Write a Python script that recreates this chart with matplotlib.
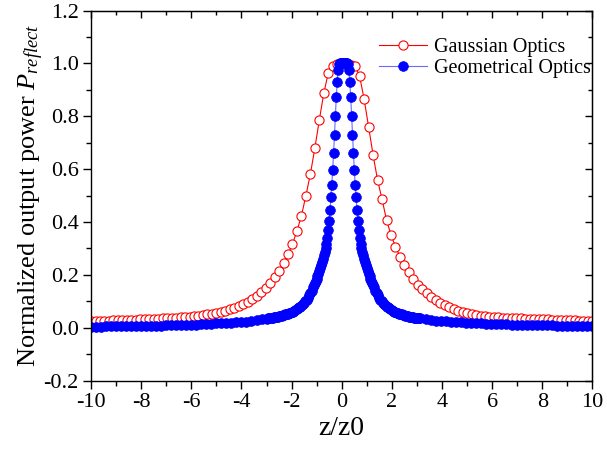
import numpy as np
import matplotlib
matplotlib.use("Agg")
import matplotlib.pyplot as plt
from matplotlib.ticker import MultipleLocator

plt.rcParams['font.family'] = ['Liberation Serif', 'DejaVu Serif']
plt.rcParams['mathtext.fontset'] = 'custom'
plt.rcParams['mathtext.rm'] = 'Liberation Serif'
plt.rcParams['mathtext.it'] = 'Liberation Serif:italic'
plt.rcParams['axes.unicode_minus'] = False

# Gaussian optics: 113 samples from -10 to 10
gauss_x = np.linspace(-10, 10, 113)
gauss_y = [
    0.025, 0.026, 0.026, 0.027, 0.027, 0.028, 0.028, 0.029, 0.029, 0.030,
    0.030, 0.031, 0.032, 0.033, 0.033, 0.034, 0.035, 0.036, 0.037, 0.038,
    0.039, 0.040, 0.042, 0.044, 0.046, 0.048, 0.050, 0.053, 0.056, 0.060,
    0.065, 0.070, 0.076, 0.082, 0.090, 0.098, 0.108, 0.119, 0.134, 0.149,
    0.168, 0.191, 0.216, 0.246, 0.278, 0.317, 0.366, 0.424, 0.500, 0.582,
    0.680, 0.787, 0.888, 0.965, 0.990, 0.997, 1.000,
    0.999, 0.996, 0.990, 0.951, 0.865, 0.760, 0.654, 0.559, 0.486, 0.408,
    0.351, 0.307, 0.269, 0.237, 0.210, 0.183, 0.162, 0.145, 0.130, 0.117,
    0.105, 0.095, 0.086, 0.078, 0.071, 0.064, 0.059, 0.054, 0.051, 0.047,
    0.045, 0.043, 0.041, 0.040, 0.039, 0.038, 0.037, 0.036, 0.036, 0.035,
    0.034, 0.033, 0.033, 0.032, 0.031, 0.031, 0.030, 0.030, 0.029, 0.029,
    0.028, 0.028, 0.027, 0.027, 0.026, 0.025,
]

# Geometrical optics: sampled finer near the peak
geo_x = np.concatenate([
    np.linspace(-10, -3.0, 36),
    np.linspace(-2.95, -1.2, 36),
    np.linspace(-1.15, 1.29, 69),
    np.linspace(1.34, 3.09, 36),
    np.linspace(3.14, 10, 35),
])
geo_y_left_tail = [
    0.004, 0.004, 0.004, 0.005, 0.005, 0.005, 0.005, 0.006, 0.006, 0.006,
    0.007, 0.007, 0.007, 0.008, 0.008, 0.009, 0.009, 0.010, 0.010, 0.011,
    0.012, 0.012, 0.013, 0.014, 0.015, 0.016, 0.017, 0.018, 0.019, 0.020,
    0.022, 0.023, 0.025, 0.028, 0.031, 0.034,
]
geo_y_left_mid = [
    0.035, 0.036, 0.036, 0.037, 0.038, 0.039, 0.040, 0.041, 0.042, 0.043,
    0.044, 0.045, 0.047, 0.048, 0.050, 0.051, 0.053, 0.055, 0.057, 0.059,
    0.061, 0.064, 0.067, 0.071, 0.074, 0.077, 0.080, 0.084, 0.089, 0.094,
    0.100, 0.106, 0.114, 0.122, 0.131, 0.140,
]
geo_y_peak = [
    0.153, 0.160, 0.168, 0.176, 0.185, 0.195, 0.205, 0.216, 0.227, 0.238,
    0.249, 0.261, 0.274, 0.287, 0.300, 0.316, 0.340, 0.370, 0.404, 0.445,
    0.496, 0.541, 0.597, 0.661, 0.730, 0.802, 0.873, 0.928, 0.975, 0.997,
    1.000, 1.000, 1.000, 1.000, 1.000, 1.000, 1.000, 1.000, 1.000, 0.997,
    0.975, 0.928, 0.873, 0.802, 0.730, 0.661, 0.597, 0.541, 0.496, 0.445,
    0.404, 0.370, 0.340, 0.316, 0.300, 0.287, 0.274, 0.261, 0.249, 0.238,
    0.227, 0.216, 0.205, 0.195, 0.185, 0.176, 0.168, 0.160, 0.153,
]
geo_y_right_mid = [
    0.140, 0.131, 0.122, 0.114, 0.106, 0.100, 0.094, 0.089, 0.084, 0.080,
    0.077, 0.074, 0.071, 0.067, 0.064, 0.061, 0.059, 0.057, 0.055, 0.053,
    0.051, 0.050, 0.048, 0.047, 0.045, 0.044, 0.043, 0.042, 0.041, 0.040,
    0.039, 0.038, 0.037, 0.036, 0.036, 0.035,
]
geo_y_right_tail = [
    0.035, 0.032, 0.029, 0.027, 0.025, 0.024, 0.022, 0.021, 0.020, 0.019,
    0.018, 0.017, 0.016, 0.015, 0.015, 0.014, 0.013, 0.013, 0.012, 0.012,
    0.011, 0.011, 0.010, 0.010, 0.009, 0.009, 0.009, 0.008, 0.008, 0.008,
    0.007, 0.007, 0.007, 0.006, 0.006,
]
geo_y = geo_y_left_tail + geo_y_left_mid + geo_y_peak + geo_y_right_mid + geo_y_right_tail

x_ticks = [-10, -8, -6, -4, -2, 0, 2, 4, 6, 8, 10]
y_ticks = [-0.2, 0.0, 0.2, 0.4, 0.6, 0.8, 1.0, 1.2]

fig = plt.figure(figsize=(6.07, 4.5), dpi=100)
ax = fig.add_axes([0.150, 0.1544, 0.826, 0.822])

ax.plot(gauss_x, gauss_y, color='#ff0000', lw=0.8, marker='o', ms=6.6,
        mfc='white', mec='#ff0000', mew=0.8, label='Gaussian Optics')
ax.plot(geo_x, geo_y, color='#6a6aff', lw=0.8, marker='o', ms=7.0,
        mfc='#0000ff', mec='#0000ff', mew=0.5, label='Geometrical Optics')

ax.set_xlim(-10, 10)
ax.set_ylim(-0.2, 1.2)
ax.set_xticks(x_ticks)
ax.set_yticks(y_ticks)
ax.set_xticklabels([str(v) for v in x_ticks])
ax.set_yticklabels(['%.1f' % v for v in y_ticks])
ax.xaxis.set_minor_locator(MultipleLocator(1))
ax.yaxis.set_minor_locator(MultipleLocator(0.1))
ax.tick_params(which='both', direction='out', labelsize=16, width=1.0, pad=3)
ax.tick_params(which='major', length=6)
ax.tick_params(which='minor', length=3.5)
for s in ax.spines.values():
    s.set_linewidth(1.0)

top = ax.secondary_xaxis('top')
top.set_xticks(x_ticks)
top.xaxis.set_minor_locator(MultipleLocator(1))
top.tick_params(which='both', direction='in', labeltop=False, width=1.0)
top.tick_params(which='major', length=5)
top.tick_params(which='minor', length=3)
right = ax.secondary_yaxis('right')
right.set_yticks(y_ticks)
right.yaxis.set_minor_locator(MultipleLocator(0.1))
right.tick_params(which='both', direction='in', labelright=False, width=1.0)
right.tick_params(which='major', length=5)
right.tick_params(which='minor', length=3)

ax.set_xlabel('z/z0', fontsize=20, labelpad=3)
ax.set_ylabel(r'Normalized output power $P_{reflect}$', fontsize=19, labelpad=-2)

ax.legend(loc='upper left', bbox_to_anchor=(0.595, 0.957), bbox_transform=fig.transFigure,
          frameon=False, fontsize=14.5, handlelength=2.35, handletextpad=0.35,
          labelspacing=0.1, numpoints=1, borderpad=0.4)

fig.savefig('out.png', dpi=100)
